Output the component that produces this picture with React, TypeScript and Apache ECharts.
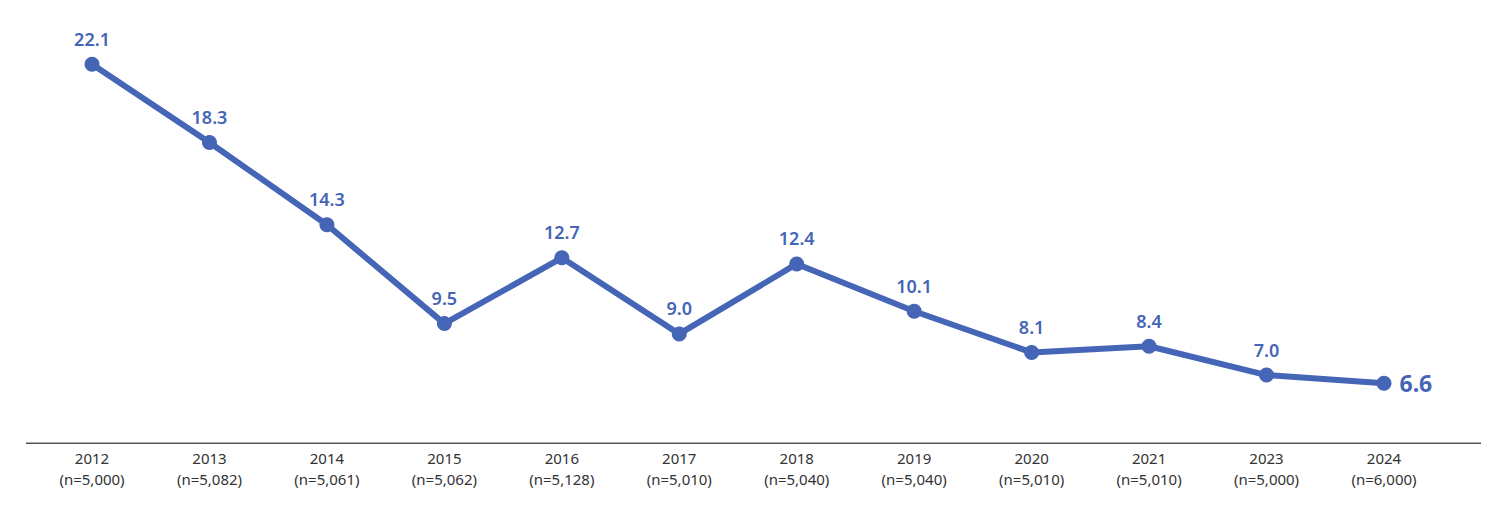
import React, { useEffect, useRef } from "react";
import * as echarts from "echarts";

const years = ["2012", "2013", "2014", "2015", "2016", "2017", "2018", "2019", "2020", "2021", "2023", "2024"];
const sampleSizes = ["5,000", "5,082", "5,061", "5,062", "5,128", "5,010", "5,040", "5,040", "5,010", "5,010", "5,000", "6,000"];
const values = [22.1, 18.3, 14.3, 9.5, 12.7, 9.0, 12.4, 10.1, 8.1, 8.4, 7.0, 6.6];

const BLUE = "#4565b6";
const FONT = "'Noto Sans', 'Noto Sans CJK KR', sans-serif";

export default function App() {
  const ref = useRef<HTMLDivElement>(null);
  useEffect(() => {
    if (!ref.current) return;
    const chart = echarts.init(ref.current, null, { renderer: "svg" });
    const categories = years.map((y, i) => `${y}\n(n=${sampleSizes[i]})`);
    const last = values.length - 1;
    chart.setOption({
      animation: false,
      backgroundColor: "#ffffff",
      grid: { left: 33.3, right: 49.3, top: 4.6, bottom: 69 },
      xAxis: {
        type: "category",
        data: categories,
        boundaryGap: true,
        axisLine: { show: false },
        axisTick: { show: false },
        axisLabel: {
          color: "#333333",
          fontFamily: FONT,
          fontSize: 15,
          lineHeight: 20.5,
          margin: 5,
        },
      },
      yAxis: {
        type: "value",
        min: 3.7,
        max: 25,
        show: false,
        splitLine: { show: false },
      },
      graphic: [
        {
          type: "line",
          shape: { x1: 26, y1: 443.3, x2: 1481, y2: 443.3 },
          style: { stroke: "#555555", lineWidth: 1.5 },
        },
      ],
      series: [
        {
          type: "line",
          data: values.map((v, i) =>
            i === last
              ? {
                  value: v,
                  label: { position: "right", fontSize: 23, distance: 8, fontWeight: "bold" },
                }
              : v
          ),
          symbol: "circle",
          symbolSize: 15,
          lineStyle: { color: BLUE, width: 6 },
          itemStyle: { color: BLUE },
          label: {
            show: true,
            position: "top",
            distance: 9,
            color: BLUE,
            fontFamily: FONT,
            fontSize: 18,
            fontWeight: 600,
            formatter: (p: any) => Number(p.value).toFixed(1),
          },
        },
      ],
    });
    return () => chart.dispose();
  }, []);
  return (
    <div
      ref={ref}
      style={{ position: "fixed", left: 0, top: 0, width: 1492, height: 512 }}
    />
  );
}
